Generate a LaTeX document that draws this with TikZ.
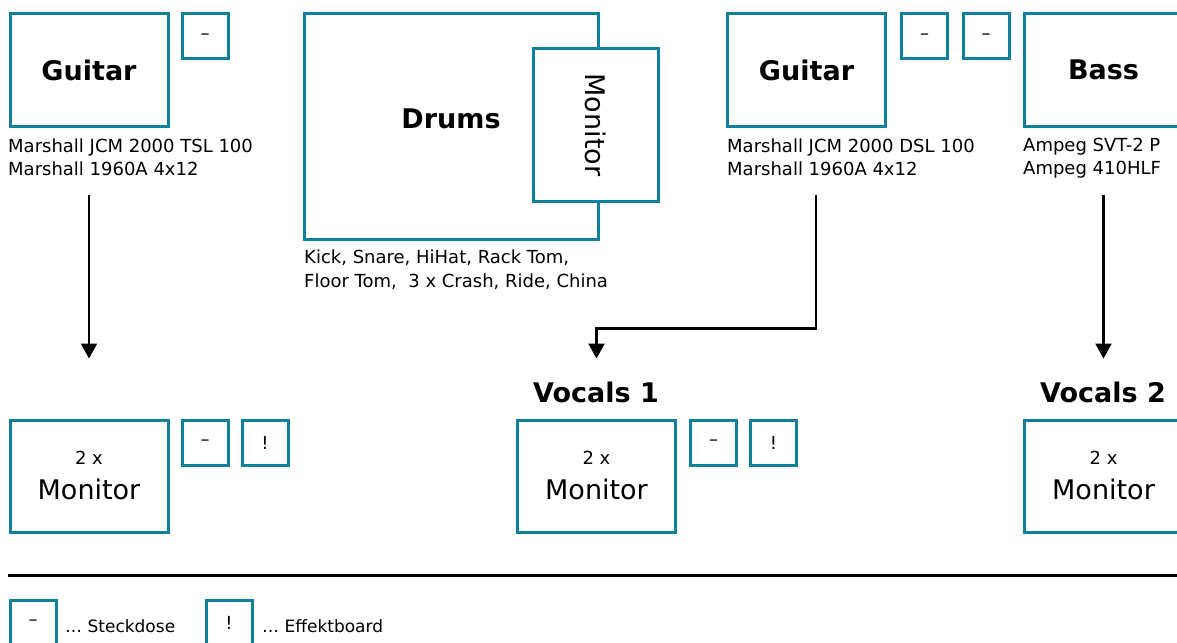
\documentclass[tikz,border=0pt]{standalone}
\usepackage{fontspec}
\setmainfont{DejaVu Sans}
\usepackage{tikz}
\usetikzlibrary{arrows.meta}
\definecolor{stage_teal}{RGB}{17,128,155}

\begin{document}
\begin{tikzpicture}[x=1pt,y=-1pt,
    box/.style={draw=stage_teal, line width=3pt, fill=white, inner sep=0pt},
    amp/.style={box, minimum width=158pt, minimum height=112pt, font=\fontsize{27}{32}\selectfont\bfseries},
    plug/.style={box, minimum width=46pt, minimum height=45pt, font=\fontsize{18}{20}\selectfont},
    wedge/.style={box, minimum width=158pt, minimum height=112pt, align=center, font=\fontsize{27}{35}\selectfont},
    info/.style={anchor=north west, inner sep=0pt, align=left, font=\fontsize{18}{23}\selectfont},
    head/.style={inner sep=0pt, font=\fontsize{27}{32}\selectfont\bfseries},
    key/.style={anchor=base west, inner sep=0pt, font=\fontsize{17}{20}\selectfont},
    arr/.style={line width=2.2pt, -{Triangle[width=16pt,length=15pt]}}]
    \useasboundingbox (0,0) rectangle (1177,642);
    % Backline
    \node[amp] (guitarL) at (89,70) {Guitar};
    \node[plug] (plugL) at (205,36.5) {–};
    \node[info] (ampL) at (8,138.3) {Marshall JCM 2000 TSL 100\\Marshall 1960A 4x12};
    \node[box, minimum width=294pt, minimum height=225pt] (drums) at (451,126.5) {};
    \node[head] (drumsLbl) at (451,119) {Drums};
    \node[box, rotate=-90, minimum width=152pt, minimum height=125pt, font=\fontsize{27}{32}\selectfont] (drumMon) at (595.5,125) {Monitor};
    \node[info, font=\fontsize{18}{24}\selectfont] (kit) at (304,249.3) {Kick, Snare, HiHat, Rack Tom,\\Floor Tom,\ \ 3 x Crash, Ride, China};
    \node[amp] (guitarR) at (806.5,70) {Guitar};
    \node[plug] (plugR1) at (924.5,36.5) {–};
    \node[plug] (plugR2) at (986,36.5) {–};
    \node[info] (ampR) at (727,138.3) {Marshall JCM 2000 DSL 100\\Marshall 1960A 4x12};
    \node[amp] (bass) at (1103.5,70) {Bass};
    \node[info] (ampB) at (1023,138.3) {Ampeg SVT-2 P\\Ampeg 410HLF};
    % Front
    \node[wedge] (wedgeL) at (89,476) {{\fontsize{18}{35}\selectfont 2 x}\\Monitor};
    \node[plug] (plugW1) at (205,442.5) {–};
    \node[plug] (fxW1) at (265,442.5) {!};
    \node[head] (voc1) at (596,392) {Vocals 1};
    \node[wedge] (wedgeM) at (596.5,476) {{\fontsize{18}{35}\selectfont 2 x}\\Monitor};
    \node[plug] (plugW2) at (713.5,442.5) {–};
    \node[plug] (fxW2) at (773.5,442.5) {!};
    \node[head] (voc2) at (1103,392) {Vocals 2};
    \node[wedge] (wedgeR) at (1103.5,476) {{\fontsize{18}{35}\selectfont 2 x}\\Monitor};
    % Arrows
    \coordinate (ampLout) at ([yshift=-67pt]guitarL.south);
    \coordinate (wedgeLin) at ([yshift=60pt]wedgeL.north);
    \coordinate (ampRout) at ([xshift=9.5pt,yshift=-67pt]guitarR.south);
    \coordinate (wedgeMin) at ([yshift=60pt]wedgeM.north);
    \coordinate (bendR) at ([yshift=30pt]wedgeMin);
    \coordinate (ampBout) at ([yshift=-67pt]bass.south);
    \coordinate (wedgeRin) at ([yshift=60pt]wedgeR.north);
    \draw[arr] (ampLout) -- (wedgeLin);
    \draw[arr] (ampRout) |- (bendR) -- (wedgeMin);
    \draw[arr] (ampBout) -- (wedgeRin);
    % Legend
    \draw[line width=3pt] (8,575) -- (1180,575);
    \node[plug] (keyPlug) at (33,622.5) {–};
    \node[key] (keyPlugTxt) at (65,632) {… Steckdose};
    \node[plug] (keyFx) at (229,622.5) {!};
    \node[key] (keyFxTxt) at (262,632) {… Effektboard};
\end{tikzpicture}
\end{document}
